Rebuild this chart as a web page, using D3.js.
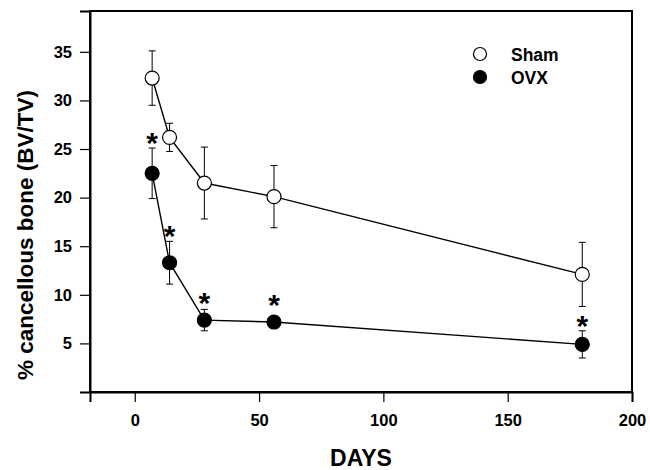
<!DOCTYPE html>
<html><head><meta charset="utf-8">
<script src="https://cdn.jsdelivr.net/npm/d3@7"></script>
<style>body{margin:0;background:#fff}svg{display:block}text{font-family:Arial,"Liberation Sans",sans-serif;font-weight:bold}</style>
</head><body><svg id="c" width="650" height="470"></svg>
<script>
const days = [7, 14, 28, 56, 180];
const shamMean = [32.3, 26.2, 21.5, 20.1, 12.1];
const shamErr  = [2.8, 1.45, 3.7, 3.2, 3.3];
const ovxMean  = [22.5, 13.3, 7.4, 7.2, 4.9];
const ovxErr   = [2.6, 2.2, 1.1, 0.4, 1.4];
const significant = [true, true, true, true, true];
const xTicks = [0, 50, 100, 150, 200];
const yTicks = [5, 10, 15, 20, 25, 30, 35];
const seriesNames = ["Sham", "OVX"];

const svg = d3.select("#c");
const L = 90, T = 11, R = 632, B = 392;
const x = d3.scaleLinear().domain([-18, 200]).range([L, R]);
const y = d3.scaleLinear().domain([0, 39.2]).range([B, T]);

// frame
svg.append("rect").attr("x", L).attr("y", T).attr("width", R - L).attr("height", B - T)
  .attr("fill", "none").attr("stroke", "#000").attr("stroke-width", 2);

// axes
const xa = svg.append("g").attr("transform", `translate(0,${B})`)
  .call(d3.axisBottom(x).tickValues(xTicks).tickSize(10).tickPadding(12));
const ya = svg.append("g").attr("transform", `translate(${L},0)`)
  .call(d3.axisLeft(y).tickValues(yTicks).tickSize(10).tickPadding(8));
[xa, ya].forEach(a => {
  a.select(".domain").attr("stroke-width", 2);
  a.selectAll(".tick line").attr("stroke-width", 1.2);
  a.selectAll("text").attr("font-size", 16.5).attr("font-family", "Arial, 'Liberation Sans', sans-serif").attr("font-weight", "bold").attr("fill", "#000");
});

const line = d3.line().x(d => x(d[0])).y(d => y(d[1]));
const sham = days.map((d, i) => [d, shamMean[i], shamErr[i]]);
const ovx = days.map((d, i) => [d, ovxMean[i], ovxErr[i]]);

function drawSeries(data, fill) {
  svg.append("path").datum(data).attr("d", line).attr("fill", "none").attr("stroke", "#000").attr("stroke-width", 1.4);
  const g = svg.append("g");
  data.forEach(d => {
    g.append("line").attr("x1", x(d[0])).attr("x2", x(d[0])).attr("y1", y(d[1] + d[2])).attr("y2", y(d[1] - d[2])).attr("stroke", "#000").attr("stroke-width", 1);
    [d[1] + d[2], d[1] - d[2]].forEach(v => {
      g.append("line").attr("x1", x(d[0]) - 3.5).attr("x2", x(d[0]) + 3.5).attr("y1", y(v)).attr("y2", y(v)).attr("stroke", "#000").attr("stroke-width", 1);
    });
  });
  g.selectAll("circle").data(data).join("circle").attr("cx", d => x(d[0])).attr("cy", d => y(d[1])).attr("r", 7)
    .attr("fill", fill).attr("stroke", "#000").attr("stroke-width", 1.2);
}
drawSeries(sham, "#fff");
drawSeries(ovx, "#000");

// significance stars above OVX error bars
svg.append("g").selectAll("text").data(ovx.filter((d, i) => significant[i])).join("text")
  .attr("x", d => x(d[0]))
  .attr("y", d => Math.min(y(d[1] + d[2]), y(d[1]) - 12) + 5)
  .attr("text-anchor", "middle").attr("font-size", 30).text("*");

// legend
const lg = svg.append("g");
seriesNames.forEach((n, i) => {
  lg.append("circle").attr("cx", 480).attr("cy", 54 + i * 23).attr("r", 6.5)
    .attr("fill", i === 0 ? "#fff" : "#000").attr("stroke", "#000").attr("stroke-width", 1.2);
  lg.append("text").attr("x", 511).attr("y", 60.5 + i * 23).attr("font-size", 17.5).text(n);
});

// axis titles
svg.append("text").attr("x", 361).attr("y", 466).attr("text-anchor", "middle").attr("font-size", 23).text("DAYS");
svg.append("text").attr("transform", "translate(33,235) rotate(-90)").attr("text-anchor", "middle").attr("font-size", 22.5).text("% cancellous bone (BV/TV)");
</script></body></html>
